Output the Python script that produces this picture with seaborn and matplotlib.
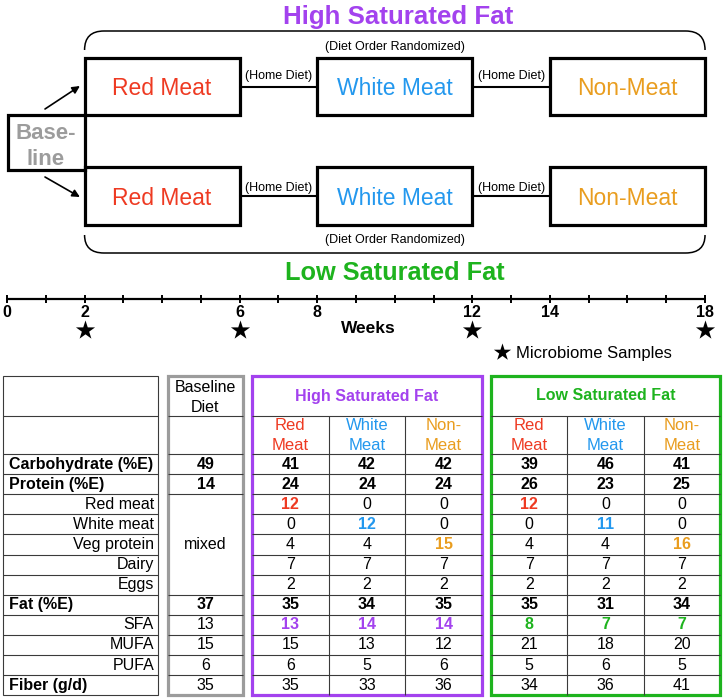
import matplotlib.pyplot as plt
import seaborn as sns
from matplotlib.path import Path
from matplotlib.patches import PathPatch, Rectangle

# study design (weeks)
weeks = list(range(0, 19))
week_labels = [0, 2, 6, 8, 12, 14, 18]
sample_weeks = [2, 6, 12, 18]
diets = ['Red Meat', 'White Meat', 'Non-Meat']
diet_start = [2, 8, 14]
diet_end = [6, 12, 18]

# diet composition table
row_labels = ['Carbohydrate (%E)', 'Protein (%E)', 'Red meat', 'White meat', 'Veg protein',
              'Dairy', 'Eggs', 'Fat (%E)', 'SFA', 'MUFA', 'PUFA', 'Fiber (g/d)']
bold_labels = ['Carbohydrate (%E)', 'Protein (%E)', 'Fat (%E)', 'Fiber (g/d)']
bold_values = ['Carbohydrate (%E)', 'Protein (%E)', 'Fat (%E)']
baseline = [49, 14, None, None, None, None, None, 37, 13, 15, 6, 35]
hsf_red = [41, 24, 12, 0, 4, 7, 2, 35, 13, 15, 6, 35]
hsf_white = [42, 24, 0, 12, 4, 7, 2, 34, 14, 13, 5, 33]
hsf_non = [42, 24, 0, 0, 15, 7, 2, 35, 14, 12, 6, 36]
lsf_red = [39, 26, 12, 0, 4, 7, 2, 35, 8, 21, 5, 34]
lsf_white = [46, 23, 0, 11, 4, 7, 2, 31, 7, 18, 6, 36]
lsf_non = [41, 25, 0, 0, 16, 7, 2, 34, 7, 20, 5, 41]

RED = '#ee3a22'
BLUE = '#2398ee'
ORANGE = '#e99d1f'
PURPLE = '#a342ee'
GREEN = '#1eb31e'
GRAY = '#9c9c9c'
diet_colors = [RED, BLUE, ORANGE]
highlight_rows = ['Red meat', 'White meat', 'Veg protein']

sns.set_theme(style='white')
plt.rcParams['font.family'] = ['Liberation Sans', 'DejaVu Sans']
plt.rcParams['text.color'] = 'black'

fig = plt.figure(figsize=(7.24, 6.99), dpi=100)

# top diagram: x in weeks, y in pixels
ax = fig.add_axes([0, 0, 1, 1])
px_week = 38.78
x0 = 7

# brackets
def bracket(y_line, y_end):
    verts = [(2, y_end), (2, y_line), (2.5, y_line), (17.5, y_line), (18, y_line), (18, y_end)]
    codes = [Path.MOVETO, Path.CURVE3, Path.CURVE3, Path.LINETO, Path.CURVE3, Path.CURVE3]
    ax.add_patch(PathPatch(Path(verts, codes), fill=False, lw=1.1, color='black'))

bracket(31, 50)
bracket(253, 235)
mid = (diet_start[0] + diet_end[-1]) / 2
ax.text(mid + 0.1, 24, 'High Saturated Fat', color=PURPLE, fontsize=18.6, fontweight='bold',
        ha='center', va='baseline')
ax.text(mid, 280, 'Low Saturated Fat', color=GREEN, fontsize=18.3, fontweight='bold',
        ha='center', va='baseline')
ax.text(mid, 47, '(Diet Order Randomized)', fontsize=9, ha='center', va='center')
ax.text(mid, 240.5, '(Diet Order Randomized)', fontsize=9, ha='center', va='center')

for top, bottom, y_link, y_home, y_txt in [(58, 115, 87, 76.5, 95), (167, 225, 196, 187.5, 205)]:
    for name, s, e, c in zip(diets, diet_start, diet_end, diet_colors):
        ax.add_patch(Rectangle((s, top), e - s, bottom - top, fill=False, lw=2.3, ec='black'))
        ax.text((s + e) / 2, y_txt, name, color=c, fontsize=16.5, ha='center', va='baseline')
    for e, s in zip(diet_end[:-1], diet_start[1:]):
        ax.plot([e, s], [y_link, y_link], color='black', lw=1.5)
        ax.text((e + s) / 2, y_home, '(Home Diet)', fontsize=9, ha='center', va='center')

# baseline box
ax.add_patch(Rectangle((0.03, 115), diet_start[0] - 0.03, 55, fill=False, lw=2.3, ec='black'))
ax.text(1, 139, 'Base-', color=GRAY, fontsize=16, fontweight='bold', ha='center', va='baseline')
ax.text(1, 165, 'line', color=GRAY, fontsize=16, fontweight='bold', ha='center', va='baseline')
arrow = dict(arrowstyle='-|>', color='black', lw=1.2, mutation_scale=11, shrinkA=0, shrinkB=0)
ax.annotate('', xy=(1.88, 86), xytext=(0.98, 109), arrowprops=arrow)
ax.annotate('', xy=(1.88, 197), xytext=(0.98, 177), arrowprops=arrow)

# timeline
ax.plot([weeks[0], weeks[-1]], [299, 299], color='black', lw=1.6)
ax.vlines(weeks, 295, 303, color='black', lw=1.4)
for wk in week_labels:
    ax.text(wk, 317, str(wk), fontsize=11.5, fontweight='bold', ha='center', va='baseline')
ax.text(9.33, 333, 'Weeks', fontsize=12.5, fontweight='bold', ha='center', va='baseline')
sns.scatterplot(x=sample_weeks, y=[330] * len(sample_weeks), marker='*', s=210,
                color='black', linewidth=0, ax=ax, legend=False)

ax.set_xlim(-x0 / px_week, (724 - x0) / px_week)
ax.set_ylim(699, 0)
ax.axis('off')

# table: pixel coordinates
tab = fig.add_axes([0, 0, 1, 1])
tab.set_xlim(0, 724)
tab.set_ylim(699, 0)
tab.axis('off')

tab.scatter([502], [352], marker='*', s=170, color='black', linewidth=0)
tab.text(516, 358, 'Microbiome Samples', fontsize=12, ha='left', va='baseline')

top, h1, h2, rh = 376, 416, 454, 20.1
n = len(row_labels)
edges = [h2 + i * rh for i in range(n + 1)]
bottom = edges[-1]
centers = [h2 + (i + 0.5) * rh for i in range(n)]
FS = 11.5
thin = dict(color='#3a3a3a', lw=0.8)

# label column
lx0, lx1 = 3, 158
tab.add_patch(Rectangle((lx0, top), lx1 - lx0, bottom - top, fill=False, ec='#3a3a3a', lw=0.8))
tab.hlines([h1] + edges[:-1], lx0, lx1, **thin)
for lab, yc in zip(row_labels, centers):
    if lab in bold_labels:
        tab.text(lx0 + 6, yc, lab, fontsize=FS, fontweight='bold', ha='left', va='center')
    else:
        tab.text(lx1 - 4, yc, lab, fontsize=FS, ha='right', va='center')

# baseline column
bx0, bx1 = 168, 243
bline = [h1, h2, edges[1], edges[2]] + edges[7:-1]
tab.hlines(bline, bx0, bx1, **thin)
tab.add_patch(Rectangle((bx0, top), bx1 - bx0, bottom - top, fill=False, ec=GRAY, lw=2.3))
tab.text((bx0 + bx1) / 2, 388, 'Baseline', fontsize=FS, ha='center', va='center')
tab.text((bx0 + bx1) / 2, 407, 'Diet', fontsize=FS, ha='center', va='center')
for lab, v, yc in zip(row_labels, baseline, centers):
    if v is not None:
        tab.text((bx0 + bx1) / 2, yc, str(v), fontsize=FS, ha='center', va='center',
                 fontweight='bold' if lab in bold_values else 'normal')
tab.text((bx0 + bx1) / 2, (edges[2] + edges[7]) / 2, 'mixed', fontsize=FS, ha='center', va='center')

# diet groups
groups = [('High Saturated Fat', PURPLE, 252, 482, [hsf_red, hsf_white, hsf_non]),
          ('Low Saturated Fat', GREEN, 491, 720, [lsf_red, lsf_white, lsf_non])]
for title, gc, gx0, gx1, cols in groups:
    cw = (gx1 - gx0) / 3
    tab.hlines([h1] + edges[:-1], gx0, gx1, **thin)
    tab.vlines([gx0 + cw, gx0 + 2 * cw], h1, bottom, **thin)
    tab.add_patch(Rectangle((gx0, top), gx1 - gx0, bottom - top, fill=False, ec=gc, lw=2.3))
    tab.text((gx0 + gx1) / 2, 396, title, color=gc, fontsize=FS, fontweight='bold',
             ha='center', va='center')
    for j, (vals, name, dc, hrow) in enumerate(zip(cols, diets, diet_colors, highlight_rows)):
        xc = gx0 + (j + 0.5) * cw
        w1, w2 = name.split('-') if '-' in name else name.split(' ')
        if '-' in name:
            w1 += '-'
        tab.text(xc, 426, w1, color=dc, fontsize=FS + 0.5, ha='center', va='center')
        tab.text(xc, 445, w2, color=dc, fontsize=FS + 0.5, ha='center', va='center')
        for lab, v, yc in zip(row_labels, vals, centers):
            color, weight = 'black', 'normal'
            if lab in bold_values:
                weight = 'bold'
            if lab == hrow:
                color, weight = dc, 'bold'
            if lab == 'SFA':
                color, weight = gc, 'bold'
            tab.text(xc, yc, str(v), color=color, fontsize=FS, fontweight=weight,
                     ha='center', va='center')

fig.savefig('out.png', dpi=100)
